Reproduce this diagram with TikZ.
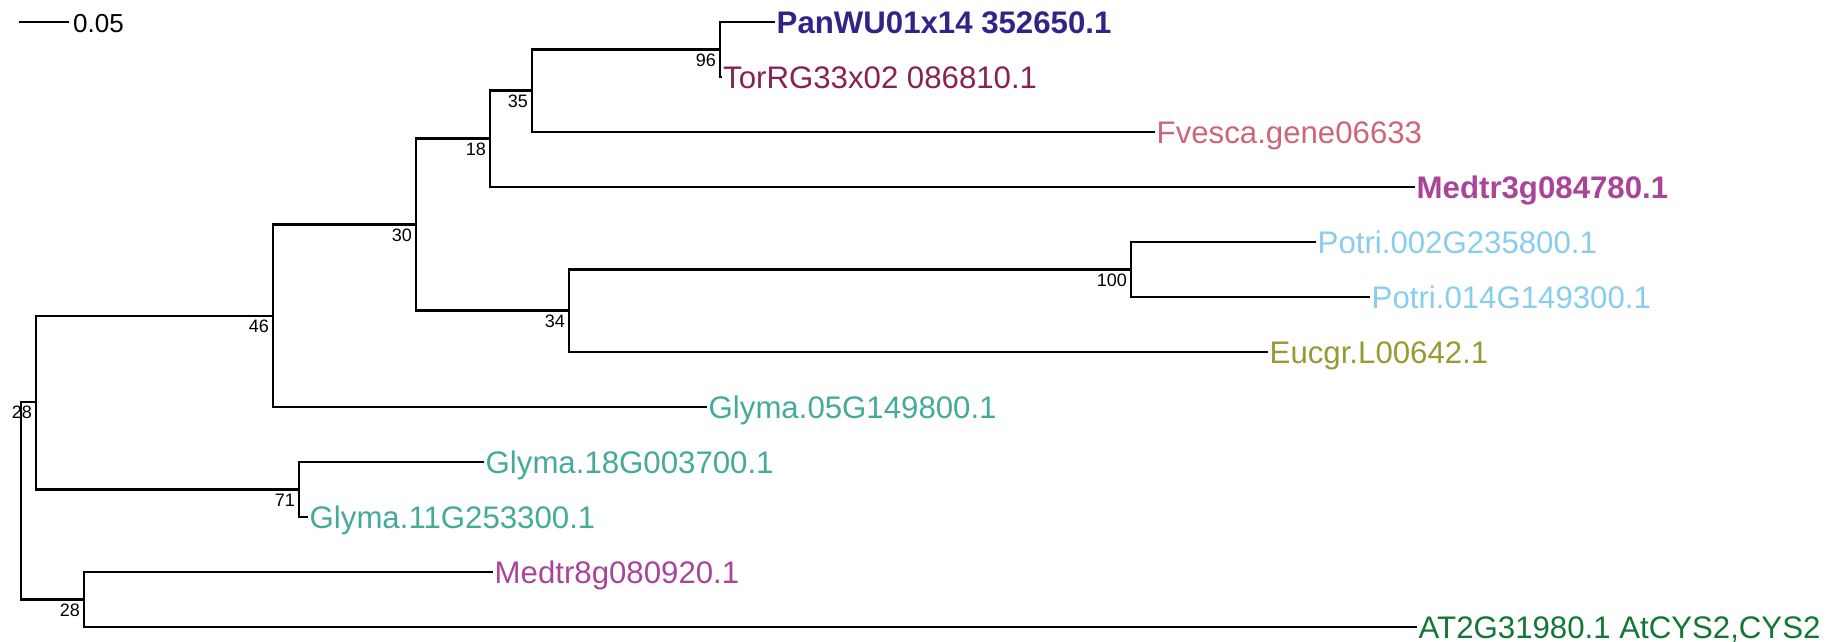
\documentclass[tikz,border=0pt]{standalone}
\usepackage{fontspec}
\setmainfont{Liberation Sans}
\definecolor{tolindigo}{HTML}{332288}
\definecolor{tolwine}{HTML}{882255}
\definecolor{tolrose}{HTML}{CC6677}
\definecolor{tolpurple}{HTML}{AA4499}
\definecolor{tolcyan}{HTML}{88CCEE}
\definecolor{tololive}{HTML}{999933}
\definecolor{tolteal}{HTML}{44AA99}
\definecolor{tolgreen}{HTML}{117733}
\tikzset{
  leaf/.style={anchor=west, inner xsep=1.5pt, inner ysep=0pt, text height=22.3pt, text depth=0pt,
    font=\fontsize{31.2}{36}\selectfont},
  leafbold/.style={leaf, font=\fontsize{31.2}{36}\selectfont\bfseries},
  boot/.style={anchor=east, inner sep=0pt, text height=12.9pt, text depth=0pt,
    font=\fontsize{18}{21}\selectfont},
  branch/.style={line width=2.2pt, black},
}
\begin{document}
\begin{tikzpicture}[x=1pt,y=-1pt]
\useasboundingbox (0,0) rectangle (1833,641);
% scale bar
\coordinate (sba) at (19,22);
\coordinate (sbb) at (69,22);
\node[anchor=west, inner sep=0pt, text height=18.6pt, text depth=0pt, font=\fontsize{26}{30}\selectfont] (sbl) at (73,23) {0.05};
\draw[line width=2pt] (sba) -- (sbb);
% internal nodes
\coordinate (root) at (20.7,500.5);
\coordinate (nA) at (36,402);
\coordinate (n46) at (273,316);
\coordinate (n30) at (416,224.5);
\coordinate (n18) at (490,138.5);
\coordinate (n35) at (532,90.5);
\coordinate (n96) at (720,49.5);
\coordinate (n34) at (569,310.5);
\coordinate (n100) at (1131,269.5);
\coordinate (n71) at (299,489.5);
\coordinate (n28) at (84,599.5);
% leaves
\node[leafbold, text=tolindigo] (panwu) at (775,22) {PanWU01x14 352650.1};
\node[leaf, text=tolwine] (torrg) at (721.5,77) {TorRG33x02 086810.1};
\node[leaf, text=tolrose] (fvesca) at (1155,132) {Fvesca.gene06633};
\node[leafbold, text=tolpurple] (medtrA) at (1415,187) {Medtr3g084780.1};
\node[leaf, text=tolcyan] (potriA) at (1316,242) {Potri.002G235800.1};
\node[leaf, text=tolcyan] (potriB) at (1370,297) {Potri.014G149300.1};
\node[leaf, text=tololive] (eucgr) at (1268,352) {Eucgr.L00642.1};
\node[leaf, text=tolteal] (glymaA) at (707,407) {Glyma.05G149800.1};
\node[leaf, text=tolteal] (glymaB) at (484,462) {Glyma.18G003700.1};
\node[leaf, text=tolteal] (glymaC) at (308,517) {Glyma.11G253300.1};
\node[leaf, text=tolpurple] (medtrB) at (493,572) {Medtr8g080920.1};
\node[leaf, text=tolgreen] (at2g) at (1417,627) {AT2G31980.1 AtCYS2,CYS2};
% branches
\draw[branch] (root) |- (nA);
\draw[branch] (root) |- (n28);
\draw[branch] (nA) |- (n46);
\draw[branch] (nA) |- (n71);
\draw[branch] (n46) |- (n30);
\draw[branch] (n46) |- (glymaA.west);
\draw[branch] (n30) |- (n18);
\draw[branch] (n30) |- (n34);
\draw[branch] (n18) |- (n35);
\draw[branch] (n18) |- (medtrA.west);
\draw[branch] (n35) |- (n96);
\draw[branch] (n35) |- (fvesca.west);
\draw[branch] (n96) |- (panwu.west);
\draw[branch] (n96) |- (torrg.west);
\draw[branch] (n34) |- (n100);
\draw[branch] (n34) |- (eucgr.west);
\draw[branch] (n100) |- (potriA.west);
\draw[branch] (n100) |- (potriB.west);
\draw[branch] (n71) |- (glymaB.west);
\draw[branch] (n71) |- (glymaC.west);
\draw[branch] (n28) |- (medtrB.west);
\draw[branch] (n28) |- (at2g.west);
% bootstrap values
\node[boot] (b96) at ([shift={(-4,10.5)}]n96) {96};
\node[boot] (b35) at ([shift={(-4,10.5)}]n35) {35};
\node[boot] (b18) at ([shift={(-4,10.5)}]n18) {18};
\node[boot] (b30) at ([shift={(-4,10.5)}]n30) {30};
\node[boot] (b46) at ([shift={(-4,10.5)}]n46) {46};
\node[boot] (b34) at ([shift={(-4,10.5)}]n34) {34};
\node[boot] (b100) at ([shift={(-4,10.5)}]n100) {100};
\node[boot] (b71) at ([shift={(-4,10.5)}]n71) {71};
\node[boot] (bA) at ([shift={(-4,10.5)}]nA) {28};
\node[boot] (b28) at ([shift={(-4,10.5)}]n28) {28};
\end{tikzpicture}
\end{document}
